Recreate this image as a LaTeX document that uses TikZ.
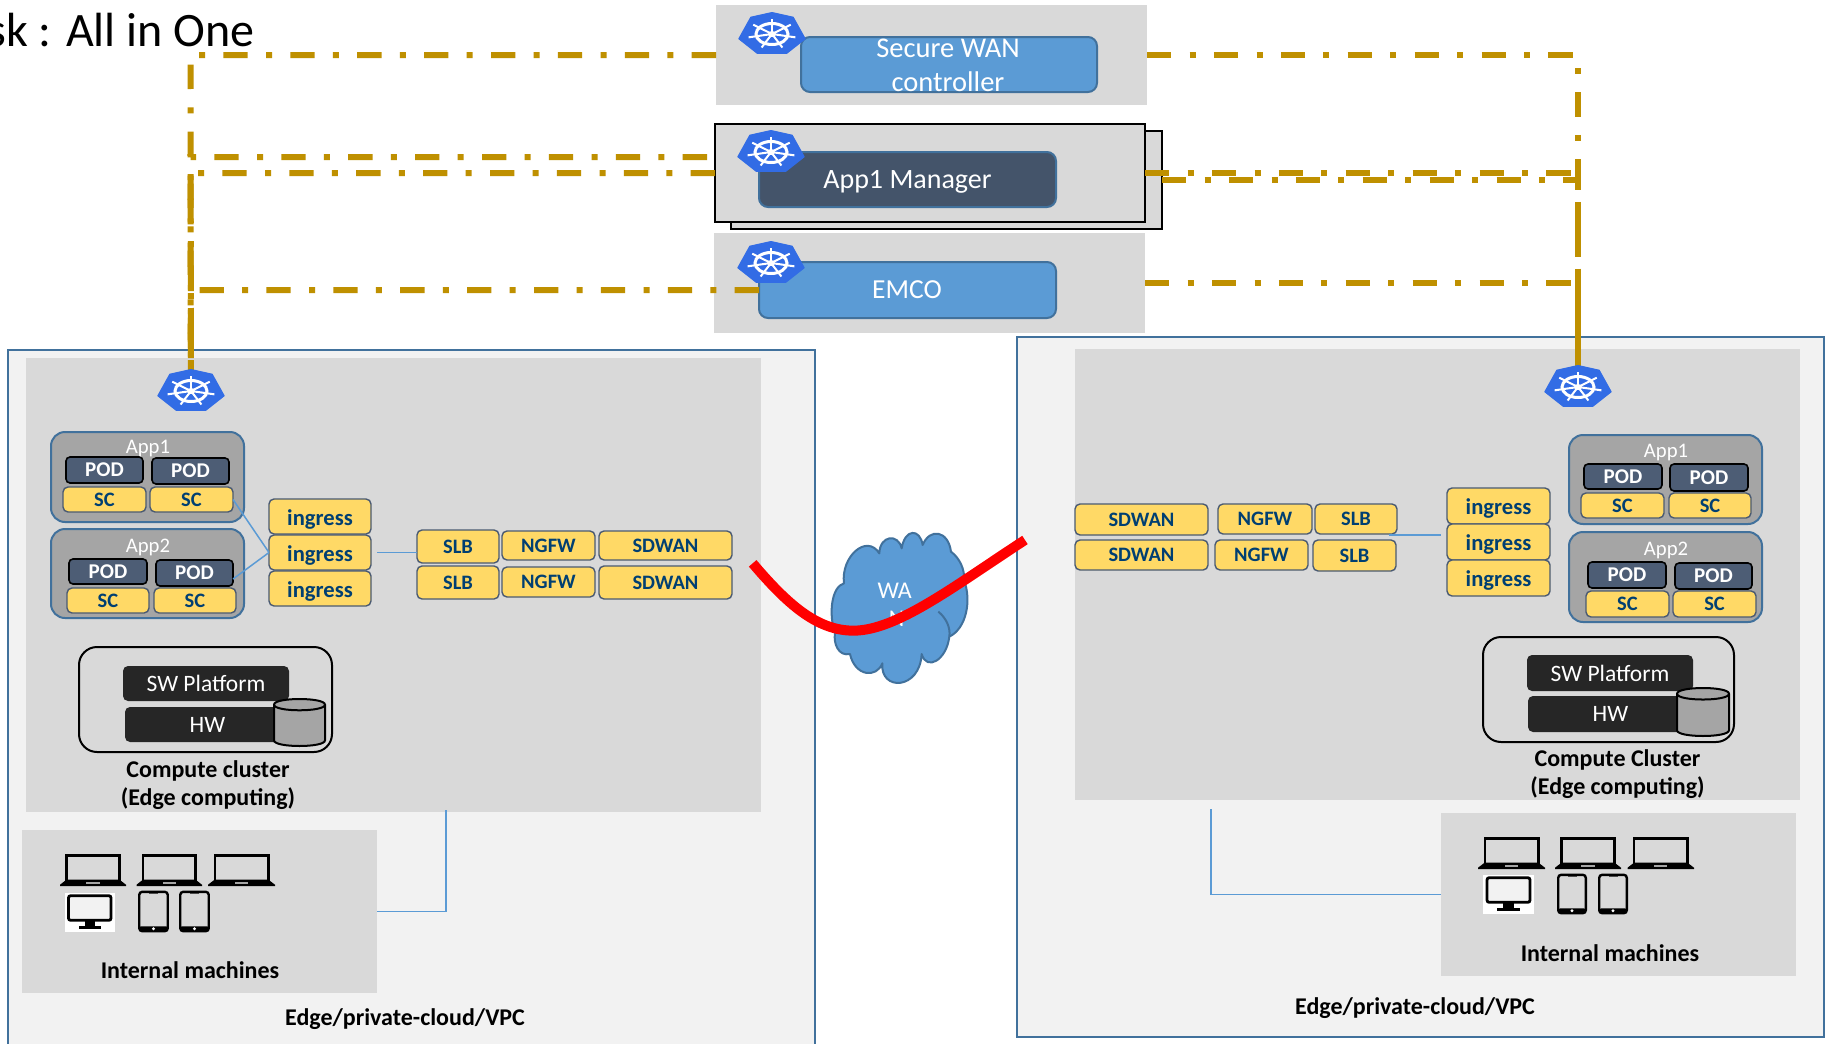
\documentclass[tikz,border=0pt]{standalone}
\usepackage{fontspec}
\setmainfont{Carlito}
\definecolor{outerfill}{HTML}{F2F2F2}
\definecolor{panelfill}{HTML}{D9D9D9}
\definecolor{edgeblue}{HTML}{41719C}
\definecolor{boxblue}{HTML}{5B9BD5}
\definecolor{mgrfill}{HTML}{44546A}
\definecolor{podfill}{HTML}{4D5D75}
\definecolor{appfill}{HTML}{A5A5A5}
\definecolor{yfill}{HTML}{FFD966}
\definecolor{ystroke}{HTML}{4A5A72}
\definecolor{ytext}{HTML}{003F72}
\definecolor{darkfill}{HTML}{262626}
\definecolor{goldline}{HTML}{BF9000}
\definecolor{kubeblue}{HTML}{326CE5}
\tikzset{
  basebox/.style={inner sep=0pt,outer sep=0pt,rectangle},
  outerbox/.style={basebox,fill=outerfill,draw=edgeblue,line width=2.5pt},
  panelbox/.style={basebox,fill=panelfill},
  framebox/.style={basebox,fill=panelfill,draw=black,line width=2pt},
  bluebox/.style={basebox,fill=boxblue,draw=edgeblue,line width=2pt,rounded corners=9pt,text=white},
  mgrbox/.style={basebox,fill=mgrfill,draw=edgeblue,line width=2pt,rounded corners=9pt,text=white,text height=17pt,text depth=0pt,font=\fontsize{28}{34}\selectfont},
  appbox/.style={basebox,fill=appfill,draw=edgeblue,line width=2pt,rounded corners=14pt},
  podbox/.style={basebox,fill=podfill,draw=black,line width=1.6pt,rounded corners=4pt,text=white,font=\fontsize{21}{24}\selectfont\bfseries},
  ybox/.style={basebox,fill=yfill,draw=ystroke,line width=1.4pt,rounded corners=5pt,text=ytext,font=\fontsize{20.5}{24}\selectfont\bfseries},
  ingbox/.style={ybox,text height=17pt,text depth=0pt,font=\fontsize{22.6}{26}\selectfont\bfseries},
  darkbox/.style={basebox,fill=darkfill,rounded corners=5pt,text=white,font=\fontsize{23.5}{28}\selectfont},
  clusterbox/.style={basebox,draw=black,line width=2pt,rounded corners=18pt},
  applbl/.style={inner sep=0pt,text=white,font=\fontsize{20.7}{24}\selectfont},
  boldlbl/.style={inner sep=0pt,text=black,font=\fontsize{24}{28}\selectfont\bfseries},
  whitelbl/.style={inner sep=0pt,text=white,font=\fontsize{27.5}{32}\selectfont},
  wanlbl/.style={whitelbl,font=\fontsize{28.5}{32}\selectfont},
  goldpath/.style={draw=goldline,line width=6pt,dash pattern=on 24.3pt off 18.3pt on 6pt off 18.3pt},
  thinlink/.style={draw=boxblue,line width=1.5pt},
}
\newcommand{\bx}[7][]{%
  \pgfmathsetmacro\bxcx{(#3+#5)/2}%
  \pgfmathsetmacro\bxcy{(#4+#6)/2}%
  \pgfmathsetmacro\bxw{#5-#3}%
  \pgfmathsetmacro\bxh{#6-#4}%
  \node[#1,minimum width=\bxw pt,minimum height=\bxh pt] (#2) at (\bxcx,\bxcy) {#7};%
}
\newcommand{\kubeicon}[2]{%
  \begin{scope}[shift={(#1,#2)}]
    \fill[kubeblue,draw=kubeblue,line width=1pt,line join=round]
      (0,-21.5) -- (21.2,-16.8) -- (33.2,4.8) -- (14.7,19.4) -- (-14.7,19.4) -- (-33.2,4.8) -- (-21.2,-16.8) -- cycle;
    \draw[white,line width=3pt] (0,0) ellipse [x radius=16,y radius=10.5];
    \foreach \a in {90,141.43,192.86,244.29,295.71,347.14,38.57}
      \draw[white,line width=2pt] (0,0) -- ({24*cos(\a)},{-15*sin(\a)});
    \fill[white] (0,0) ellipse [x radius=4,y radius=3];
  \end{scope}}
\newcommand{\unitscope}[5]{%
  \pgfmathsetmacro\uw{#3-#1}\pgfmathsetmacro\uh{#4-#2}%
  \begin{scope}[shift={(#1,#2)},x=\uw pt,y=-\uh pt]#5\end{scope}}
\newcommand{\laptop}[4]{\unitscope{#1}{#2}{#3}{#4}{%
  \draw[black,line width=2.4pt] (.1,.83) -- (.1,.05) -- (.9,.05) -- (.9,.83);
  \fill[black] (.1,.8) -- (.9,.8) -- (1,.96) -- (1,1) -- (0,1) -- (0,.96) -- cycle;
  \fill[appfill] (.4,.88) rectangle (.6,.94);}}
\newcommand{\monitor}[4]{\unitscope{#1}{#2}{#3}{#4}{%
  \fill[white] (0,0) rectangle (1,1);
  \draw[black,fill=outerfill,line width=2.8pt,rounded corners=2pt] (.08,.07) rectangle (.92,.7);
  \fill[black] (.4,.7) rectangle (.6,.85);
  \fill[black] (.28,.85) rectangle (.72,.93);}}
\newcommand{\tablet}[4]{\unitscope{#1}{#2}{#3}{#4}{%
  \draw[black,line width=2.4pt,rounded corners=3pt] (.04,.02) rectangle (.96,.98);
  \fill[black,rounded corners=2pt] (.04,.86) rectangle (.96,.98);
  \fill[white] (.5,.92) circle [radius=1.6pt];
  \fill[black!70] (.35,.055) rectangle (.65,.07);}}
\newcommand{\drum}[4]{\unitscope{#1}{#2}{#3}{#4}{%
  \draw[black,fill=appfill,line width=2pt] (0,.12) -- (0,.88) .. controls (0,1.04) and (1,1.04) .. (1,.88) -- (1,.12) .. controls (1,-.04) and (0,-.04) .. (0,.12) -- cycle;
  \draw[black,line width=2pt] (0,.12) .. controls (0,.28) and (1,.28) .. (1,.12);}}
\begin{document}
\begin{tikzpicture}[x=1pt,y=-1pt]
\useasboundingbox (0,0) rectangle (1826,1044);
\fill[white] (0,0) rectangle (1826,1044);
% outer regions
\bx[outerbox]{outerL}{8}{350}{815}{1070}{}
\bx[outerbox]{outerR}{1017}{337}{1824}{1037}{}
\bx[panelbox]{panelL}{26}{358}{761}{812}{}
\bx[panelbox]{panelR}{1075}{349}{1800}{800}{}
\bx[panelbox]{intL}{22}{830}{377}{993}{}
\bx[panelbox]{intR}{1441}{813}{1796}{976}{}
% top panels
\bx[panelbox]{wanP}{716}{5}{1147}{105}{}
\bx[panelbox]{emcoP}{714}{233}{1145}{333}{}
\bx[framebox,line width=1.5pt]{mgrBack}{731}{131}{1162}{229}{}
\bx[framebox]{mgrFront}{715}{124}{1145}{222}{}
\bx[bluebox]{emcoB}{759}{262}{1056}{318}{}
% gold links
\coordinate (kubeL) at (191,391);
\coordinate (kubeR) at (1578,387);
\coordinate (cTL) at (190.5,55);
\coordinate (cML) at (190.5,157);
\coordinate (cNL) at (190.5,173);
\coordinate (cEL) at (190.5,290);
\coordinate (cTR) at (1578,55);
\coordinate (cNR) at (1578,173);
\coordinate (cBR) at (1578,180);
\coordinate (cER) at (1578,283);
\coordinate (mgrHidden) at (707,157);
\draw[goldpath] (wanP.west) -- (cTL) -- (kubeL);
\draw[goldpath] (mgrHidden) -- (cML) -- (kubeL);
\draw[goldpath] (mgrFront.west) -- (cNL) -- (kubeL);
\draw[goldpath] (emcoB.west) -- (cEL) -- (kubeL);
\draw[goldpath] (wanP.east) -- (cTR) -- (kubeR);
\draw[goldpath] (mgrFront.east) -- (cNR) -- (kubeR);
\draw[goldpath] (mgrBack.east) -- (cBR) -- (kubeR);
\draw[goldpath] (emcoP.east) -- (cER) -- (kubeR);
% top boxes
\bx[bluebox]{wanB}{801}{37}{1097}{92}{}
\node[wanlbl] (wanT1) at (948,48) {Secure WAN};
\node[wanlbl] (wanT2) at (948,82) {controller};
\bx[mgrbox]{mgrB}{759}{152}{1056}{207}{App1 Manager}
\node[whitelbl] (emcoT) at (907,290) {EMCO};
\kubeicon{772}{34}
\kubeicon{771}{152}
\kubeicon{771}{263}
\kubeicon{191}{391}
\kubeicon{1578}{387}
% title
\node[anchor=base east,inner sep=0pt,font=\fontsize{48}{54}\selectfont,text=black] (title) at (255,46) {sk : All in One};
% left apps
\bx[appbox]{appL1}{51}{432}{244}{522}{}
\node[applbl] (appL1t) at (148,448.5) {App1};
\bx[podbox]{podL11}{66}{457}{143}{483}{POD}
\bx[podbox]{podL12}{152}{458}{229}{484}{POD}
\bx[ybox]{scL11}{63}{487}{146}{512}{SC}
\bx[ybox]{scL12}{150}{487}{233}{512}{SC}
\bx[appbox]{appL2}{51}{529}{244}{618}{}
\node[applbl] (appL2t) at (148,547.5) {App2};
\bx[podbox]{podL21}{69}{559}{147}{584}{POD}
\bx[podbox]{podL22}{156}{560}{233}{586}{POD}
\bx[ybox]{scL21}{67}{588}{149}{613}{SC}
\bx[ybox]{scL22}{154}{588}{236}{613}{SC}
\bx[ingbox]{ingL1}{269}{499}{371}{534}{ingress}
\bx[ingbox]{ingL2}{269}{535}{371}{570}{ingress}
\bx[ingbox]{ingL3}{269}{571}{371}{606}{ingress}
\bx[ybox]{slbL1}{417}{530}{499}{563}{SLB}
\bx[ybox]{ngfwL1}{502}{531}{595}{560}{NGFW}
\bx[ybox]{sdL1}{599}{531}{732}{560}{SDWAN}
\bx[ybox]{slbL2}{417}{566}{499}{599}{SLB}
\bx[ybox]{ngfwL2}{502}{567}{595}{597}{NGFW}
\bx[ybox]{sdL2}{599}{566}{732}{599}{SDWAN}
\draw[thinlink] (scL12.east) -- (ingL2.west);
\draw[thinlink] ([yshift=-6pt]podL22.east) -- (ingL2.west);
\draw[thinlink] ([xshift=6pt]ingL2.east) -- (ingL2.east -| slbL1.west);
% left cluster
\bx[clusterbox]{clusL}{79}{647}{332}{752}{}
\bx[darkbox]{swL}{123}{666}{289}{701}{SW Platform}
\bx[darkbox]{hwL}{125}{707}{290}{742}{HW}
\drum{274}{699}{325}{746}
\node[boldlbl] (clusLt1) at (208,771) {Compute cluster};
\node[boldlbl] (clusLt2) at (208,799) {(Edge computing)};
% left machines
\laptop{60}{854}{126}{886}
\laptop{136.5}{854}{202}{886}
\laptop{208}{854}{275}{886}
\monitor{64.5}{893}{115}{932}
\tablet{138}{891}{169}{932}
\tablet{179}{891}{210}{932}
\node[boldlbl] (intLt) at (190,970) {Internal machines};
\node[boldlbl] (edgeLt) at (405,1019) {Edge/private-cloud/VPC};
\coordinate (linkL) at (446,810);
\draw[thinlink] (linkL) |- (intL.east);
% right apps
\bx[appbox]{appR1}{1569}{435}{1762}{524}{}
\node[applbl] (appR1t) at (1666,452.5) {App1};
\bx[podbox]{podR11}{1584}{464}{1662}{489}{POD}
\bx[podbox]{podR12}{1670}{464}{1748}{491}{POD}
\bx[ybox]{scR11}{1581}{493}{1664}{518}{SC}
\bx[ybox]{scR12}{1669}{493}{1751}{518}{SC}
\bx[appbox]{appR2}{1569}{532}{1762}{622}{}
\node[applbl] (appR2t) at (1666,550.5) {App2};
\bx[podbox]{podR21}{1588}{562}{1666}{588}{POD}
\bx[podbox]{podR22}{1675}{563}{1752}{589}{POD}
\bx[ybox]{scR21}{1586}{591}{1669}{617}{SC}
\bx[ybox]{scR22}{1673}{591}{1756}{617}{SC}
\bx[ingbox]{ingR1}{1447}{488}{1550}{524}{ingress}
\bx[ingbox]{ingR2}{1447}{524}{1550}{560}{ingress}
\bx[ingbox]{ingR3}{1447}{560}{1550}{596}{ingress}
\bx[ybox]{sdR1}{1075}{504}{1208}{535}{SDWAN}
\bx[ybox]{ngfwR1}{1218}{504}{1312}{534}{NGFW}
\bx[ybox]{slbR1}{1315}{504}{1397}{534}{SLB}
\bx[ybox]{sdR2}{1075}{540}{1208}{570}{SDWAN}
\bx[ybox]{ngfwR2}{1215}{540}{1308}{570}{NGFW}
\bx[ybox]{slbR2}{1313}{540}{1396}{571}{SLB}
\draw[thinlink] ([xshift=-8pt,yshift=-1pt]slbR1.south east) -- ([xshift=-6pt,yshift=7pt]ingR2.west);
% right cluster
\bx[clusterbox]{clusR}{1483}{637}{1734}{742}{}
\bx[darkbox]{swR}{1527}{655}{1693}{691}{SW Platform}
\bx[darkbox]{hwR}{1528}{696}{1693}{732}{HW}
\drum{1677}{688}{1729}{736}
\node[boldlbl] (clusRt1) at (1617.5,760) {Compute Cluster};
\node[boldlbl] (clusRt2) at (1617.5,788) {(Edge computing)};
% right machines
\laptop{1478}{837}{1545}{869}
\laptop{1555}{837}{1621}{869}
\laptop{1627.5}{837}{1694}{869}
\monitor{1483}{875}{1534}{914}
\tablet{1557}{874}{1587}{914}
\tablet{1598}{874}{1628}{914}
\node[boldlbl] (intRt) at (1610,953) {Internal machines};
\node[boldlbl] (edgeRt) at (1415,1008) {Edge/private-cloud/VPC};
\coordinate (linkR) at (1211,809);
\draw[thinlink] (linkR) |- (intR.west);
% cloud and WAN link
\begin{scope}[shift={(720,500)},x=0.3333pt,y=-0.3333pt]
  \draw[fill=boxblue,draw=edgeblue,line width=2pt,line join=round]
    (372,250) .. controls (362,170) and (440,100) .. (478,160)
    .. controls (480,105) and (535,100) .. (545,145)
    .. controls (555,85) and (600,85) .. (608,135)
    .. controls (630,82) and (685,92) .. (693,155)
    .. controls (720,175) and (735,210) .. (732,240)
    .. controls (755,300) and (740,385) .. (688,410)
    .. controls (680,480) and (620,515) .. (605,462)
    .. controls (600,570) and (480,575) .. (487,490)
    .. controls (470,535) and (405,530) .. (390,462)
    .. controls (355,470) and (340,430) .. (345,400)
    .. controls (325,340) and (335,260) .. (372,250) -- cycle;
  \draw[draw=edgeblue,line width=2pt] (655,335) .. controls (680,355) and (692,385) .. (688,410);
  \node[inner sep=0pt,text=white,font=\fontsize{24}{28}\selectfont] (cloudT1) at (524,272) {WA};
  \node[inner sep=0pt,text=white,font=\fontsize{24}{28}\selectfont] (cloudT2) at (530,357) {N};
  \draw[red,line width=10pt] (98,190) .. controls (200,310) and (290,392) .. (400,392) .. controls (530,392) and (700,260) .. (915,120);
\end{scope}
\end{tikzpicture}
\end{document}
